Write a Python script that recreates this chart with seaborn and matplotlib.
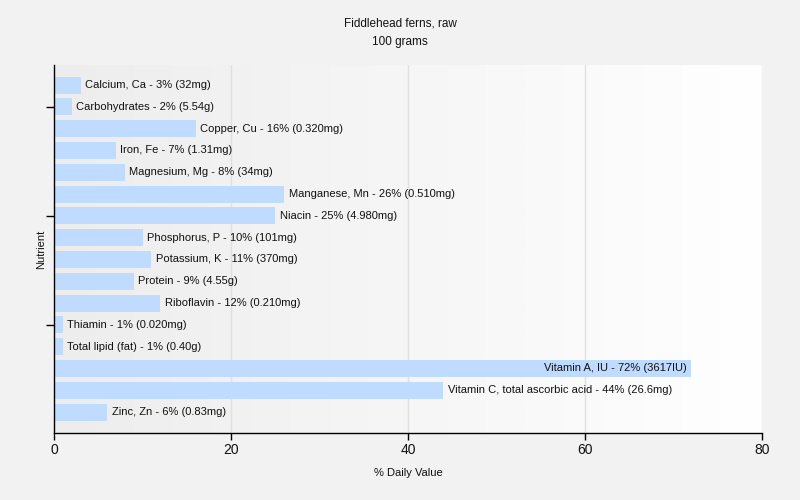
import numpy as np
import pandas as pd
import matplotlib
matplotlib.use("Agg")
import matplotlib.pyplot as plt
import seaborn as sns

nutrients = ["Calcium, Ca", "Carbohydrates", "Copper, Cu", "Iron, Fe", "Magnesium, Mg",
             "Manganese, Mn", "Niacin", "Phosphorus, P", "Potassium, K", "Protein",
             "Riboflavin", "Thiamin", "Total lipid (fat)", "Vitamin A, IU",
             "Vitamin C, total ascorbic acid", "Zinc, Zn"]
values = [3, 2, 16, 7, 8, 26, 25, 10, 11, 9, 12, 1, 1, 72, 44, 6]
amounts = ["32mg", "5.54g", "0.320mg", "1.31mg", "34mg", "0.510mg", "4.980mg", "101mg",
           "370mg", "4.55g", "0.210mg", "0.020mg", "0.40g", "3617IU", "26.6mg", "0.83mg"]
x_ticks = [0, 20, 40, 60, 80]

df = pd.DataFrame({"Nutrient": nutrients, "Value": values, "Amount": amounts})

sns.set_style("white")
plt.rcParams["font.family"] = ["Liberation Sans", "DejaVu Sans"]

fig = plt.figure(figsize=(8, 5), dpi=100, facecolor="#f2f2f2")
ax = fig.add_axes([0.0675, 0.134, 0.885, 0.736])

# gradient background
grad = np.linspace(0, 1, 512).reshape(1, -1)
cmap = matplotlib.colors.LinearSegmentedColormap.from_list("bg", ["#ededed", "#ffffff"])
ax.imshow(grad, aspect="auto", cmap=cmap, extent=[0, 1, 0, 1], transform=ax.transAxes,
          zorder=0, interpolation="bilinear")

sns.barplot(data=df, x="Value", y="Nutrient", orient="h", color="#bfdbff",
            width=0.78, saturation=1, linewidth=0, ax=ax, zorder=2)

ax.set_xlim(0, 80)
ax.set_ylim(15.96, -0.92)
ax.set_xticks(x_ticks)
ax.set_xticklabels([str(t) for t in x_ticks], fontsize=10, color="#111111")
for t in x_ticks[1:]:
    ax.axvline(t, color="#e0e0e0", lw=1, zorder=1)

ax.set_yticks([1, 6, 11])
ax.set_yticklabels([])
ax.tick_params(axis="y", length=6, width=1, color="black", left=True)
ax.tick_params(axis="x", length=5, width=1, color="black", bottom=True, pad=2)

for s in ["top", "right"]:
    ax.spines[s].set_visible(False)
for s in ["left", "bottom"]:
    ax.spines[s].set_color("black")
    ax.spines[s].set_linewidth(1)

for i, (n, v, a) in enumerate(zip(nutrients, values, amounts)):
    label = f"{n} - {v}% ({a})"
    if v > 60:
        ax.text(v - 0.5, i, label, ha="right", va="center", fontsize=8, color="#111111", zorder=3)
    else:
        ax.text(v + 0.5, i, label, ha="left", va="center", fontsize=8,
                color="#111111", zorder=3)

ax.set_xlabel("% Daily Value", fontsize=8, labelpad=8, color="#111111")
ax.set_ylabel("Nutrient", fontsize=8, color="#111111")
ax.yaxis.set_label_coords(-0.0106, 0.5)
fig.text(0.5, 0.952, "Fiddlehead ferns, raw", ha="center", va="center", fontsize=8.5, color="#111111")
fig.text(0.5, 0.916, "100 grams", ha="center", va="center", fontsize=8.5, color="#111111")

fig.savefig("out.png", dpi=100, facecolor=fig.get_facecolor())
